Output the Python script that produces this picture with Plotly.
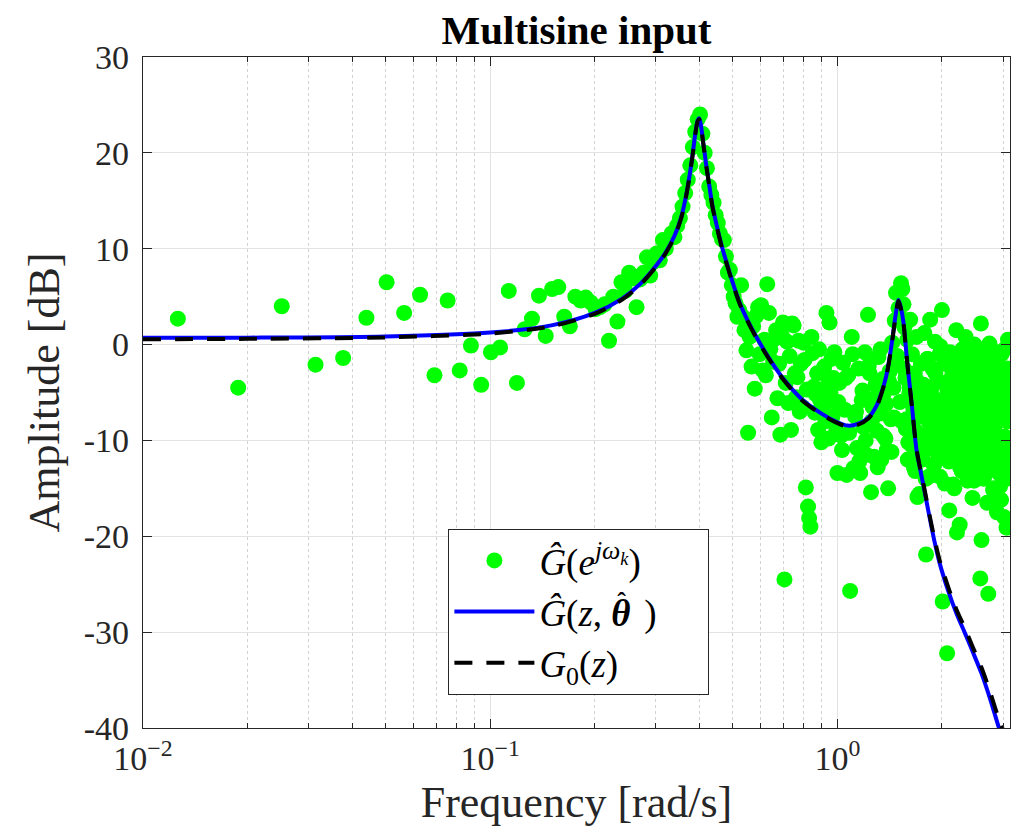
import plotly.graph_objects as go

# ---------------- measured ETFE points (frequency rad/s, amplitude dB) ----------------
freq_low = [0.0126, 0.0188, 0.0251, 0.0314, 0.0377, 0.0440, 0.0503, 0.0565, 0.0628, 0.0691,
            0.0754, 0.0817, 0.0880, 0.0942, 0.1005, 0.1068, 0.1131, 0.1194]
amp_low = [2.7, -4.5, 4.0, -2.1, -1.4, 2.8, 6.5, 3.3, 5.2, -3.2,
           4.6, -2.7, -0.1, -4.2, -0.8, -0.3, 5.6, -4.0]

freq_peak = [0.1257, 0.1319, 0.1382, 0.1445, 0.1508, 0.1571, 0.1634, 0.1696, 0.1759, 0.1822,
             0.1885, 0.1948, 0.2011, 0.2073, 0.2136, 0.2199, 0.2262, 0.2325, 0.2388, 0.2450,
             0.2513, 0.2576, 0.2639, 0.2702, 0.2765, 0.2827, 0.2890, 0.2953, 0.3016, 0.3079,
             0.3142, 0.3204, 0.3267, 0.3330, 0.3393, 0.3456, 0.3519, 0.3581, 0.3644, 0.3707,
             0.3770, 0.3833, 0.3896, 0.3958, 0.4021, 0.4084, 0.4147, 0.4210, 0.4273, 0.4335,
             0.4398, 0.4461, 0.4524, 0.4587, 0.4650, 0.4712, 0.4775, 0.4838, 0.4901, 0.4964,
             0.5027, 0.5089, 0.5152, 0.5215]
amp_peak = [1.6, 2.7, 5.1, 0.9, 5.8, 6.0, 2.9, 1.9, 5.0, 4.6,
            4.9, 4.4, 3.7, 3.9, 4.2, 0.4, 5.0, 2.4, 6.5, 5.6,
            7.5, 6.9, 3.9, 6.8, 7.5, 9.1, 7.2, 8.6, 9.5, 8.8,
            10.9, 10.0, 11.0, 11.6, 11.2, 12.4, 13.2, 14.4, 15.8, 17.2,
            18.7, 20.6, 22.2, 23.5, 24.0, 22.0, 20.0, 18.4, 16.5, 15.6,
            14.8, 13.5, 12.7, 11.6, 11.0, 10.9, 9.2, 7.5, 7.8, 6.2,
            5.0, 4.3, 2.9, 3.6]

freq_mid = [0.528, 0.534, 0.540, 0.547, 0.553, 0.559, 0.566, 0.572, 0.578, 0.584,
            0.591, 0.597, 0.603, 0.610, 0.616, 0.622, 0.628, 0.635, 0.641, 0.647,
            0.653, 0.660, 0.666, 0.672, 0.679, 0.685, 0.691, 0.697, 0.704, 0.710,
            0.716, 0.722, 0.729, 0.735, 0.741, 0.748, 0.754, 0.760, 0.767, 0.773,
            0.779, 0.785, 0.792, 0.798, 0.804, 0.811, 0.817, 0.823, 0.829, 0.836,
            0.842, 0.848, 0.855, 0.861, 0.867, 0.874, 0.880, 0.886, 0.892, 0.899,
            0.905, 0.911, 0.917, 0.924, 0.930, 0.936, 0.943, 0.949, 0.955, 0.961,
            0.968, 0.974, 0.980, 0.987, 0.993]
amp_mid = [6.2, 2.9, 1.5, -0.6, -9.2, 0.8, -2.3, 1.9, -4.6, 3.0,
           3.9, -1.0, 4.1, -2.7, 0.5, -3.2, 6.3, 3.3, -0.5, -7.6,
           -1.8, 0.6, 1.5, -5.6, -2.0, -9.4, 1.0, 2.3, -24.5, -4.0,
           0.3, -6.1, -1.2, -8.9, 2.2, 2.0, -3.0, -5.5, -3.4, 0.4,
           -7.0, -2.0, -6.5, 0.2, -1.6, -14.9, -4.7, -16.9, -18.1, -19.0,
           0.8, -0.9, -4.4, -7.1, -5.2, -3.0, -8.9, -0.5, -5.8, -10.2,
           -4.7, -6.6, -2.3, -8.0, 3.3, -3.4, -9.8, 2.3, -5.0, -1.5,
           -7.5, -3.5, -0.8, -6.0, -9.0]

freq_res2 = [1.000, 1.013, 1.025, 1.038, 1.050, 1.063, 1.075, 1.088, 1.100, 1.113,
             1.125, 1.138, 1.150, 1.163, 1.175, 1.188, 1.200, 1.213, 1.225, 1.238,
             1.250, 1.263, 1.275, 1.288, 1.300, 1.313, 1.325, 1.338, 1.350, 1.363,
             1.375, 1.388, 1.400, 1.413, 1.425, 1.438, 1.450, 1.463, 1.475, 1.488,
             1.500, 1.513, 1.525, 1.538]
amp_res2 = [-13.4, -4.0, -9.5, -1.9, -6.8, -13.6, -3.2, -25.7, 0.8, -12.9,
            -7.5, -10.8, -2.5, -13.4, -5.8, -8.6, -0.8, -11.5, 3.1, -3.0,
            -15.4, -6.5, -11.7, -4.2, -9.0, -1.3, -7.2, -12.0, -3.6, -5.0,
            -9.8, -11.0, -15.0, -2.8, -7.8, 0.2, -4.5, 2.5, 5.4, -1.2,
            3.8, -6.0, 6.4, 5.8]

freq_res2b = [1.006, 1.031, 1.056, 1.081, 1.106, 1.131, 1.156, 1.181, 1.206, 1.231,
              1.256, 1.281, 1.306, 1.331, 1.356, 1.381, 1.406, 1.431, 1.456, 1.481,
              1.506, 1.531]
amp_res2b = [-6.0, -11.0, -3.5, -9.2, -1.0, -7.0, -12.2, -4.8, -10.0, -2.2,
             -8.0, -5.6, -12.8, -0.5, -9.5, -6.2, -3.8, -11.2, -7.6, -2.0,
             3.0, -8.0]

freq_high = [1.55, 1.56, 1.57, 1.58, 1.59, 1.60, 1.61, 1.62, 1.63, 1.64,
             1.65, 1.66, 1.67, 1.68, 1.69, 1.70, 1.71, 1.72, 1.73, 1.74,
             1.75, 1.76, 1.77, 1.78, 1.79, 1.80, 1.81, 1.82, 1.83, 1.84,
             1.85, 1.86, 1.87, 1.88, 1.89, 1.90, 1.91, 1.92, 1.93, 1.94,
             1.95, 1.96, 1.97, 1.98, 1.99, 2.00, 2.01, 2.02, 2.03, 2.04,
             2.05, 2.06, 2.07, 2.08, 2.09, 2.10, 2.11, 2.12, 2.13, 2.14,
             2.15, 2.16, 2.17, 2.18, 2.19, 2.20, 2.21, 2.22, 2.23, 2.24,
             2.25, 2.26, 2.27, 2.28, 2.29, 2.30, 2.31, 2.32, 2.33, 2.34,
             2.35, 2.36, 2.37, 2.38, 2.39, 2.40, 2.41, 2.42, 2.43, 2.44,
             2.45, 2.46, 2.47, 2.48, 2.49, 2.50, 2.51, 2.52, 2.53, 2.54,
             2.55, 2.56, 2.57, 2.58, 2.59, 2.60, 2.61, 2.62, 2.63, 2.64,
             2.65, 2.66, 2.67, 2.68, 2.69, 2.70, 2.71, 2.72, 2.73, 2.74,
             2.75, 2.76, 2.77, 2.78, 2.79, 2.80, 2.81, 2.82, 2.83, 2.84,
             2.85, 2.86, 2.87, 2.88, 2.89, 2.90, 2.91, 2.92, 2.93, 2.94,
             2.95, 2.96, 2.97, 2.98, 2.99, 3.00, 3.01, 3.02, 3.03, 3.04,
             3.05, 3.06, 3.07, 3.08, 3.09, 3.10, 3.11, 3.12, 3.13, 3.14]
amp_high = [4.2, 1.8, -3.5, -7.8, 0.5, -10.2, -5.1, 2.6, -8.4, -1.0,
            -6.3, -12.8, -3.0, -9.0, 0.8, -15.9, -5.5, -15.6, -11.2, -2.0,
            -7.0, -12.0, -4.2, 1.2, -9.5, -21.9, -6.0, -1.5, -13.8, -8.2,
            2.6, -4.8, -10.6, -2.5, -7.2, -12.5, 0.3, -5.8, -9.0, -3.8,
            -11.5, -6.6, -1.0, -0.2, -8.5, 3.6, -26.8, -4.0, -10.0, -14.5,
            -6.0, -2.0, -32.2, -9.2, -5.0, -17.3, -0.8, -12.0, -7.5, -3.2,
            -10.8, -5.5, -15.0, -1.8, -8.0, 1.5, -19.6, -11.0, -4.5, -6.8,
            -18.8, -2.8, -9.8, -13.2, -0.5, -7.0, -4.0, -11.8, -5.8, 0.8,
            -8.8, -3.0, -14.2, -6.2, -1.2, -10.5, -4.8, -12.5, -7.8, -2.2,
            -16.0, -5.2, -9.2, 0.0, -11.0, -3.8, -6.8, -13.5, -1.5, -8.0,
            -4.2, -10.2, -6.0, -24.4, 2.2, -20.4, -2.8, -12.2, -7.2, -14.0,
            -3.5, -9.0, -5.5, -0.8, -11.8, -16.5, -7.0, -26.0, -2.0, 0.1,
            -8.5, -4.5, -13.0, -6.2, -10.0, -1.8, -15.2, -5.0, -8.8, -3.2,
            -12.0, -6.5, -0.8, -17.5, -9.5, -4.0, -11.2, -2.5, -7.5, -14.8,
            -5.8, -16.2, -1.0, -9.8, -3.5, -12.8, -7.0, -18.0, -0.5, -6.0,
            -10.5, -4.2, -19.1, -8.0, -2.5, 0.5, -13.5, -6.5, -11.0, -3.8]

freq_high2 = [1.555, 1.575, 1.595, 1.615, 1.635, 1.655, 1.675, 1.695, 1.715, 1.735,
              1.755, 1.775, 1.795, 1.815, 1.835, 1.855, 1.875, 1.895, 1.915, 1.935,
              1.955, 1.975, 1.995, 2.015, 2.035, 2.055, 2.075, 2.095, 2.115, 2.135,
              2.155, 2.175, 2.195, 2.215, 2.235, 2.255, 2.275, 2.295, 2.315, 2.335,
              2.355, 2.375, 2.395, 2.415, 2.435, 2.455, 2.475, 2.495, 2.515, 2.535,
              2.555, 2.575, 2.595, 2.615, 2.635, 2.655, 2.675, 2.695, 2.715, 2.735,
              2.755, 2.775, 2.795, 2.815, 2.835, 2.855, 2.875, 2.895, 2.915, 2.935,
              2.955, 2.975, 2.995, 3.015, 3.035, 3.055, 3.075, 3.095, 3.115, 3.135]
amp_high2 = [-2.5, -8.8, -12.0, -4.5, -10.5, -6.8, -13.2, -3.8, -9.8, -7.5,
             -11.8, -5.2, -14.0, -1.5, -8.0, -10.8, -6.0, -12.6, -3.0, -9.2,
             -5.8, -13.8, -7.0, -11.2, -2.0, -9.6, -4.8, -12.2, -8.4, -6.2,
             -14.6, -3.6, -10.2, -7.8, -5.0, -12.8, -1.8, -9.0, -11.5, -6.6,
             -4.0, -13.0, -8.2, -2.6, -10.0, -7.2, -14.2, -5.6, -11.6, -3.2,
             -9.4, -6.4, -12.4, -4.4, -8.6, -13.6, -2.2, -10.6, -7.4, -5.4,
             -12.0, -3.4, -9.0, -15.0, -6.0, -11.0, -4.6, -8.0, -13.4, -2.8,
             -10.4, -6.8, -12.6, -5.0, -9.6, -3.0, -14.0, -7.6, -11.4, -4.0]

meas_freq = freq_low + freq_peak + freq_mid + freq_res2 + freq_res2b + freq_high + freq_high2
meas_amp = amp_low + amp_peak + amp_mid + amp_res2 + amp_res2b + amp_high + amp_high2

# ---------------- model curves ----------------
curve_freq = [0.01, 0.02, 0.05, 0.10, 0.15, 0.20, 0.24, 0.27, 0.30, 0.32,
              0.34, 0.355, 0.365, 0.375, 0.384, 0.391, 0.396, 0.400, 0.404, 0.410,
              0.418, 0.426, 0.436, 0.450, 0.465, 0.480, 0.500, 0.525, 0.55, 0.58,
              0.63, 0.70, 0.79, 0.90, 1.00, 1.07, 1.14, 1.23, 1.30, 1.34,
              1.38, 1.41, 1.44, 1.47, 1.49, 1.50, 1.52, 1.55, 1.58, 1.61,
              1.64, 1.69, 1.74, 1.78, 1.84, 1.90, 1.97, 2.09, 2.20, 2.33,
              2.45, 2.60, 2.75, 2.92, 3.1416]
model_amp = [0.7, 0.72, 0.85, 1.25, 2.0, 3.3, 4.8, 6.3, 8.2, 9.6,
             11.4, 13.3, 15.2, 17.6, 20.2, 22.4, 23.4, 23.6, 23.0, 21.3,
             19.0, 17.0, 14.6, 12.3, 10.2, 8.5, 6.4, 4.2, 2.6, 1.0,
             -1.2, -3.6, -5.7, -7.2, -8.1, -8.45, -8.3, -7.6, -6.3, -5.0,
             -3.4, -1.6, 0.6, 3.0, 4.3, 4.65, 4.0, 2.3, -0.9, -3.8,
             -6.5, -11.0, -13.4, -15.2, -17.9, -20.4, -22.8, -25.8, -28.0, -30.1,
             -32.0, -34.3, -36.9, -40.0, -43.5]
true_amp = [0.55, 0.6, 0.75, 1.15, 1.9, 3.2, 4.7, 6.2, 8.1, 9.5,
            11.3, 13.2, 15.1, 17.5, 20.1, 22.3, 23.3, 23.5, 22.9, 21.2,
            18.9, 16.9, 14.5, 12.2, 10.1, 8.4, 6.3, 4.1, 2.5, 0.9,
            -1.3, -3.7, -5.8, -7.3, -8.2, -8.55, -8.4, -7.7, -6.4, -5.1,
            -3.5, -1.7, 0.5, 2.9, 4.2, 4.55, 3.9, 2.2, -1.0, -3.9,
            -6.5, -10.9, -13.3, -15.0, -17.7, -20.1, -22.5, -25.4, -27.6, -29.6,
            -31.5, -33.7, -36.2, -39.1, -42.0]

x_tickvals = [0.01, 0.1, 1]
x_ticktext = ["10<sup>−2</sup>", "10<sup>−1</sup>", "10<sup>0</sup>"]
x_minor = [0.02, 0.03, 0.04, 0.05, 0.06, 0.07, 0.08, 0.09,
           0.2, 0.3, 0.4, 0.5, 0.6, 0.7, 0.8, 0.9, 2, 3]
y_tickvals = [-40, -30, -20, -10, 0, 10, 20, 30]
y_ticktext = ["-40", "-30", "-20", "-10", "0", "10", "20", "30"]

FONT = "Liberation Serif"
INK = "#262626"

theta_hat = ("<b><i><span style=\"letter-spacing:-0.36em\">θ</span></i></b>"
             "<sup><b>ˆ</b></sup>")

fig = go.Figure()
fig.add_trace(go.Scatter(
    x=meas_freq, y=meas_amp, mode="markers",
    marker=dict(color="#00ff00", size=16, line=dict(width=0)),
    name="<i>Ĝ</i>(<i>e</i><sup><i>jω<sub>k</sub></i></sup>)"))
fig.add_trace(go.Scatter(
    x=curve_freq, y=model_amp, mode="lines",
    line=dict(color="#0000ff", width=4, shape="spline", smoothing=0.8),
    name="<i>Ĝ</i>(<i>z</i>,\u00a0" + theta_hat + "\u00a0\u00a0)\u00a0\u00a0\u00a0\u00a0\u00a0"))
fig.add_trace(go.Scatter(
    x=curve_freq, y=true_amp, mode="lines",
    line=dict(color="#000000", width=4, shape="spline", smoothing=0.8, dash="18px,14px"),
    name="<i>G</i><sub>0</sub>(<i>z</i>)"))

axis_common = dict(
    showline=True, linecolor=INK, linewidth=1.2, mirror="ticks",
    ticks="inside", ticklen=9, tickcolor=INK, tickwidth=1.2,
    gridcolor="#e3e3e3", gridwidth=1, zeroline=False, automargin=False,
    tickfont=dict(family=FONT, size=34, color=INK),
)

fig.update_xaxes(
    type="log", range=[-2, 0.4971],
    tickvals=x_tickvals, ticktext=x_ticktext,
    minor=dict(tickvals=x_minor, showgrid=True, griddash="dot", gridcolor="#d2d2d2",
               ticks="inside", ticklen=5, tickcolor=INK),
    title=dict(text="Frequency [rad/s]", font=dict(family=FONT, size=44, color=INK), standoff=10),
    **axis_common)
fig.update_yaxes(
    range=[-40, 30], tickvals=y_tickvals, ticktext=y_ticktext,
    ticklabelstandoff=6,
    title=dict(text="Amplitude [dB]", font=dict(family=FONT, size=44, color=INK), standoff=10),
    **axis_common)

fig.update_layout(
    width=1015, height=825,
    margin=dict(l=135, r=13, t=49, b=105),
    paper_bgcolor="white", plot_bgcolor="white",
    title=dict(text="<b>Multisine input</b>", x=0.5, xref="paper", y=0.974, yref="container",
               yanchor="middle", font=dict(family=FONT, size=41, color="#000000")),
    legend=dict(x=0.352, y=0.297, xanchor="left", yanchor="top",
                bgcolor="white", bordercolor=INK, borderwidth=1.2,
                font=dict(family=FONT, size=37, color="#000000"),
                itemwidth=80),
    showlegend=True,
)

fig.write_html("out.html")
